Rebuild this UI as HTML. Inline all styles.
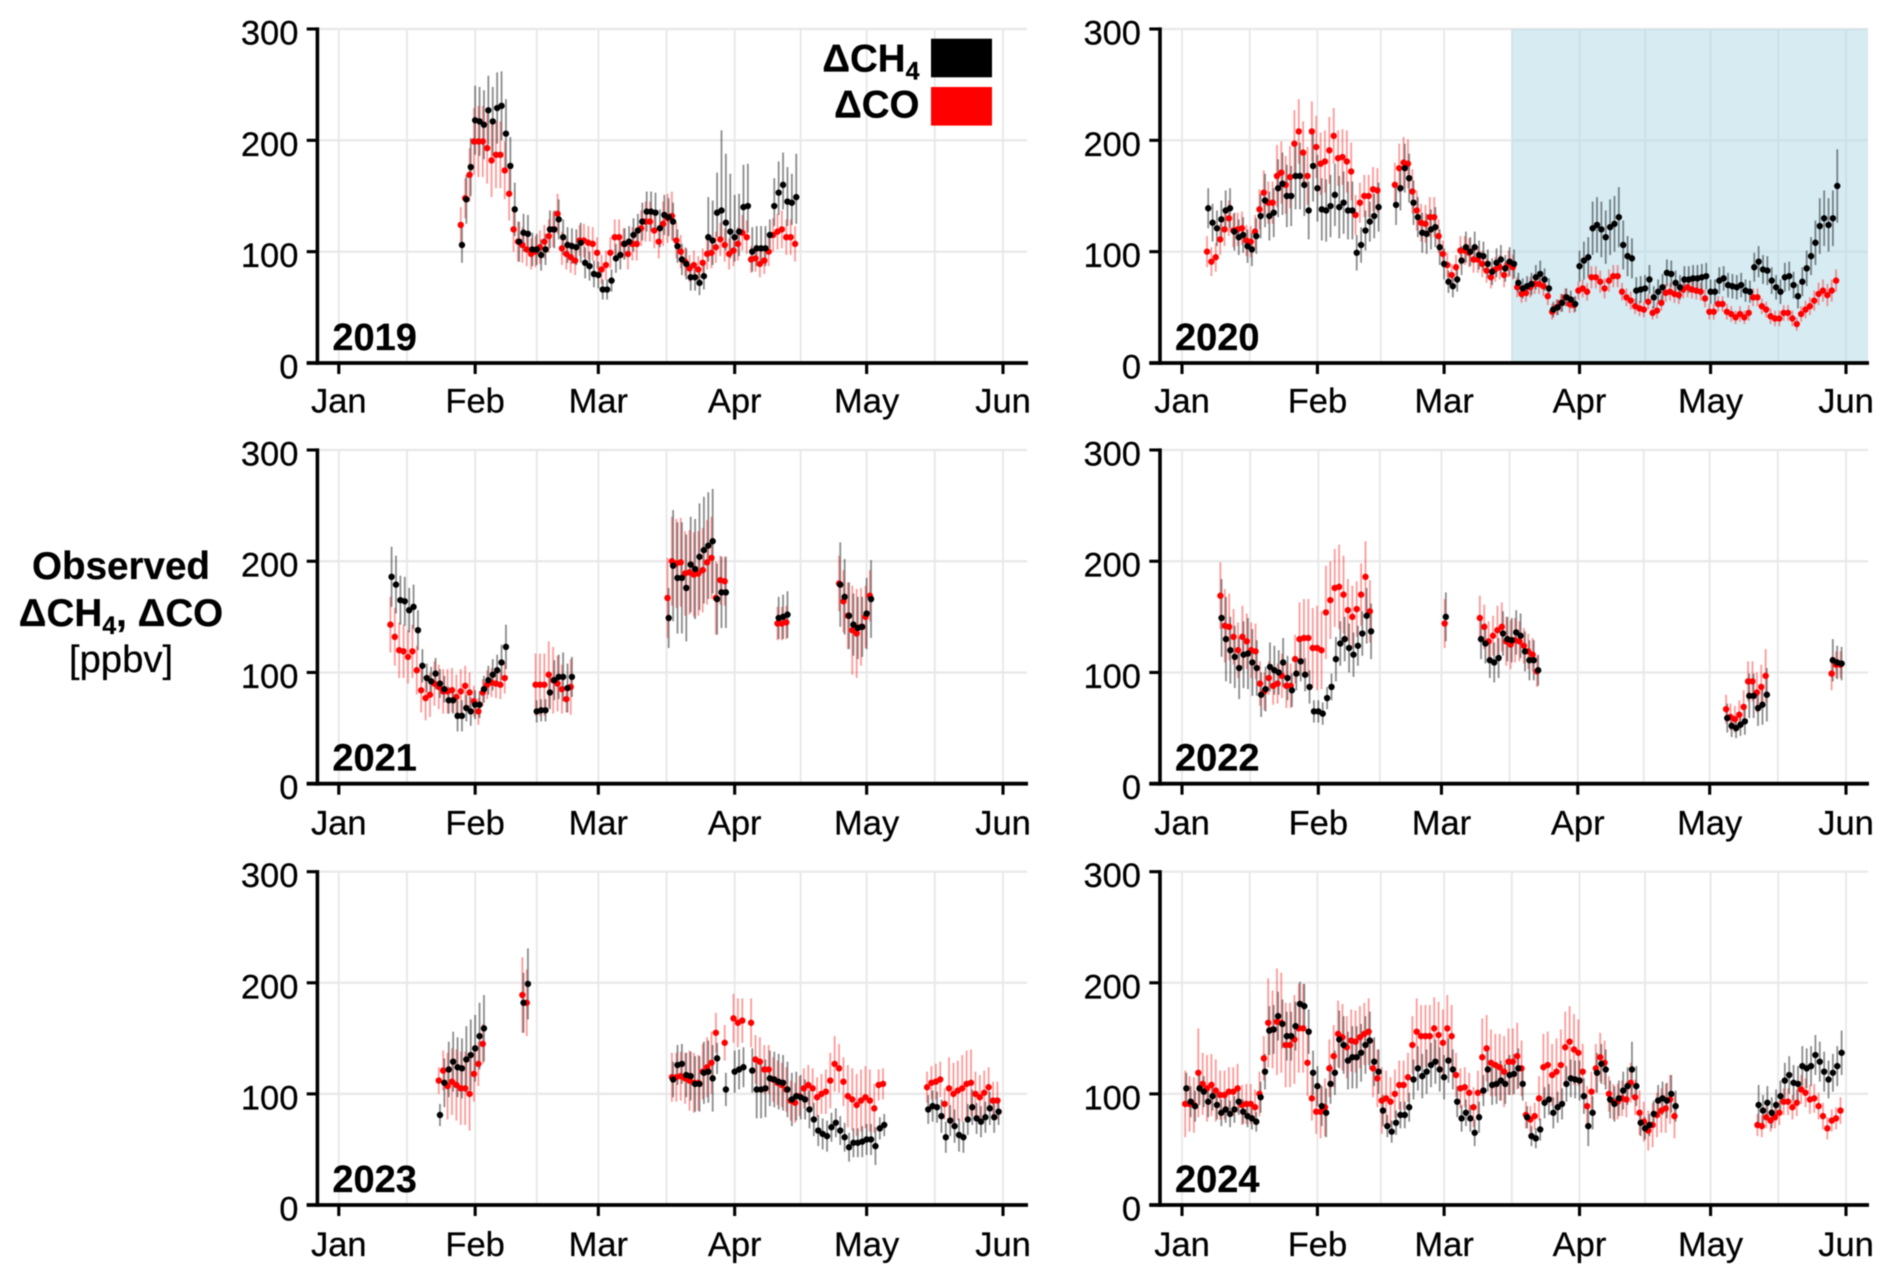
<!DOCTYPE html>
<html lang="en">
<head>
<meta charset="utf-8">
<title>Observed ΔCH4 and ΔCO 2019-2024</title>
<style>
html,body{margin:0;padding:0;background:#fff;}
svg{display:block;filter:blur(0.5px);}
text{font-family:"Liberation Sans",Arial,sans-serif;fill:#000;stroke:#000;stroke-width:0.25px;}
</style>
</head>
<body>
<svg id="figure" xmlns="http://www.w3.org/2000/svg" width="1892" height="1283" viewBox="0 0 1892 1283">
  <rect x="0" y="0" width="1892" height="1283" fill="#fff"/>
  <g id="panels"></g>
  <g text-anchor="middle">
    <text x="121" y="579" font-size="38.6" font-weight="bold">Observed</text>
    <text x="121" y="626" font-size="38.6" font-weight="bold">ΔCH<tspan font-size="25" dy="8">4</tspan><tspan dy="-8">, ΔCO</tspan></text>
    <text x="121" y="672" font-size="38.3">[ppbv]</text>
  </g>
  <g>
    <text x="919.5" y="71.5" font-size="38.5" font-weight="bold" text-anchor="end">ΔCH<tspan font-size="25" dy="8">4</tspan></text>
    <rect x="931" y="38.7" width="61" height="38.6" fill="#000"/>
    <text x="919.5" y="117.5" font-size="38.5" font-weight="bold" text-anchor="end">ΔCO</text>
    <rect x="931" y="87" width="61" height="38.6" fill="#f00"/>
  </g>
</svg>
<script>
const monthLabels = ["Jan","Feb","Mar","Apr","May","Jun"];
const yTickValues = [0,100,200,300];

// 2019
const segments2019 = [[28,77]];
const ch4Values2019 = [106,147,176,218,217,214,227,217,229,231,
206,177,138,109,117,116,102,102,97,102,
120,120,129,113,106,105,104,108,90,87,
80,79,66,66,74,94,97,107,109,115,
119,127,136,136,135,121,133,131,127,105,
93,89,77,77,72,78,113,110,135,137,
126,118,113,118,140,141,100,103,103,103,
115,141,153,160,145,144,149];
const coValues2019 = [124,148,169,199,199,199,193,182,187,187,
173,152,120,109,106,102,98,100,104,109,
114,120,134,103,98,95,92,110,110,108,
107,99,84,88,99,113,113,107,98,107,
107,121,127,127,119,109,125,130,132,110,
100,91,85,88,84,90,98,99,104,111,
106,98,101,107,117,113,93,94,89,92,
100,115,118,120,113,113,107];
const ch4Errors2019 = [16,22,26,31,31,31,31,31,32,31,
31,26,24,18,17,17,15,14,14,14,
17,17,18,16,16,16,16,18,14,13,
12,12,9,9,10,13,13,14,14,15,
15,17,18,18,18,17,18,17,17,15,
14,14,12,12,11,12,36,36,36,72,
62,52,38,34,38,38,22,20,20,20,
14,25,28,29,31,26,39];
const ch4LowerErrors2019 = [16,22,26,31,31,31,31,31,32,31,
31,26,24,18,17,17,15,14,14,14,
17,17,18,16,16,16,16,18,14,13,
12,12,9,9,10,13,13,14,14,15,
15,17,18,18,18,17,18,17,17,15,
14,14,12,12,11,12,22,22,22,25,
25,24,22,22,24,24,18,16,16,16,
12,18,20,22,22,20,24];
const coErrors2019 = [16,18,24,30,32,32,32,33,30,30,
26,24,20,18,16,15,14,14,15,15,
15,16,18,15,14,14,13,14,15,15,
15,14,13,13,14,16,16,14,14,15,
15,16,18,18,16,15,20,22,22,16,
15,13,12,13,12,13,14,14,14,15,
15,14,14,15,16,15,12,12,12,12,
13,15,16,17,16,16,16];

// 2020
const segments2020 = [[6,145]];
const ch4Values2020 = [139,126,121,129,137,139,118,113,115,105,
102,114,132,146,132,135,157,161,150,150,
168,168,160,137,177,157,138,137,141,151,
140,144,137,137,99,106,119,127,132,140,
null,null,null,142,157,175,166,144,131,117,
116,120,122,104,89,73,69,75,92,104,
100,104,97,96,89,82,90,93,85,91,
89,72,67,69,71,77,80,75,67,48,
50,54,59,57,53,87,92,95,121,124,
120,113,122,125,131,106,96,94,65,66,
67,75,59,64,68,81,80,72,68,75,
75,76,76,77,78,64,64,74,76,70,
69,68,70,65,64,86,91,84,83,74,
68,64,77,78,70,60,73,85,96,108,
123,130,124,130,159];
const coValues2020 = [100,91,95,111,120,130,119,120,121,110,
109,118,138,153,144,144,168,171,160,167,
197,208,189,168,208,194,179,181,191,204,
184,185,181,172,133,144,150,150,156,155,
null,null,null,160,175,180,179,154,137,126,
125,131,131,114,98,88,79,86,101,101,
99,93,93,89,83,77,84,86,79,89,
86,68,62,63,68,71,71,69,60,46,
50,54,59,53,52,65,67,64,77,77,
73,67,74,78,78,64,59,56,51,49,
48,55,45,47,54,63,64,62,61,66,
68,66,65,64,58,46,46,53,53,46,
44,41,44,41,45,59,59,51,48,42,
40,40,45,45,40,35,44,48,51,56,
62,65,61,65,74];
const ch4Errors2020 = [18,17,16,17,18,18,17,16,16,15,
15,16,20,24,22,22,26,28,28,27,
30,30,28,26,32,30,28,28,28,28,
28,28,26,26,16,16,18,18,20,22,
null,null,null,18,20,22,22,20,18,18,
18,18,18,16,14,10,10,11,13,14,
13,14,13,13,13,12,13,13,12,13,
13,9,9,9,10,11,12,10,9,7,
7,8,8,8,7,14,17,18,24,25,
25,24,25,25,27,22,18,18,12,12,
12,13,10,11,12,12,12,11,11,12,
12,12,12,12,12,11,11,12,11,11,
11,11,11,10,10,13,14,13,13,12,
11,11,13,13,12,11,13,16,17,20,
25,25,24,25,33];
const coErrors2020 = [14,13,13,14,15,16,15,15,15,14,
14,15,18,20,19,19,28,28,26,28,
30,29,28,26,27,28,28,28,30,25,
25,25,28,26,18,18,19,19,20,20,
null,null,null,20,22,23,22,20,18,17,
17,18,18,15,12,11,10,11,13,13,
13,12,12,12,11,10,11,11,11,12,
11,9,8,8,9,9,9,9,8,7,
7,8,8,8,7,8,8,8,10,10,
10,9,10,10,10,8,8,8,7,7,
7,7,6,7,7,8,8,8,8,8,
9,8,8,8,8,7,7,7,7,7,
7,6,7,6,7,8,8,7,7,7,
7,7,7,7,7,6,7,8,8,9,
10,10,10,10,10];

// 2021
const segments2021 = [[12,27],[45,9],[75,14],[100,3],[114,8]];
const ch4Values2021 = [186,179,165,164,156,159,138,106,95,92,
99,90,85,75,75,61,61,68,65,71,
71,85,93,98,102,109,123,
65,66,66,82,93,96,96,86,96,
149,196,185,185,176,197,193,204,210,214,218,166,172,172,
149,150,152,
179,168,151,143,140,141,153,166];
const coValues2021 = [143,132,120,119,114,119,102,84,77,80,
90,87,83,83,84,78,83,88,82,74,
65,82,89,91,90,89,95,
89,89,89,98,93,90,85,76,87,
167,200,198,199,189,190,188,189,192,199,203,167,183,182,
144,144,145,
180,164,151,138,135,141,150,169];
const ch4Errors2021 = [27,26,22,22,20,20,18,15,13,13,
14,13,12,12,12,14,14,12,13,13,
12,12,13,14,14,16,20,
10,10,10,15,18,20,22,22,18,
27,50,50,50,48,43,45,48,48,48,47,32,32,32,
19,20,21,
38,34,30,28,28,27,32,35];
const coErrors2021 = [25,26,25,24,24,24,22,20,20,20,
20,20,20,20,20,20,20,18,18,14,
12,12,13,13,13,13,14,
28,28,28,30,30,25,22,12,25,
36,40,40,40,38,38,38,38,38,38,37,33,22,22,
15,15,15,
25,28,30,40,40,35,28,23];

// 2022
const segments2022 = [[9,35],[60,1],[68,14],[124,10],[148,3]];
const ch4Values2022 = [149,130,120,114,104,116,117,109,104,80,
85,105,102,100,109,95,84,99,110,98,
87,65,65,63,77,87,112,126,130,122,
116,124,135,151,137,
150,
130,126,111,109,113,135,130,129,136,133,119,111,111,102,
59,52,50,53,56,79,79,68,71,80,
111,109,108];
const coValues2022 = [169,142,141,132,120,132,128,120,119,90,
83,95,88,90,97,88,88,112,130,131,
131,122,122,120,154,165,176,177,170,156,
150,157,170,186,155,
144,
149,141,128,133,138,141,128,125,129,128,124,119,116,101,
67,60,58,62,69,92,92,82,87,97,
99,107,107];
const ch4Errors2022 = [35,38,30,28,28,30,32,30,25,20,
20,22,22,20,22,20,15,15,18,15,
15,10,10,10,10,12,20,20,20,22,
20,18,20,25,25,
22,
18,18,16,18,18,20,20,20,20,20,18,18,18,14,
13,10,9,10,12,20,20,16,18,24,
19,15,15];
const coErrors2022 = [30,33,30,25,25,28,25,25,25,20,
17,15,17,18,20,20,20,22,33,35,
35,36,38,35,42,35,35,38,35,28,
28,25,28,32,28,
22,
20,20,18,18,22,22,22,22,20,18,16,16,15,14,
13,12,12,13,15,18,18,18,20,24,
15,12,12];

// 2023
const segments2023 = [[23,11],[42,2],[76,49],[134,17]];
const ch4Values2023 = [81,110,122,129,124,123,131,135,141,152,159,
182,199,
113,126,127,117,116,109,109,119,120,114,
132,null,104,null,120,122,124,null,121,104,
104,105,114,113,111,110,104,95,98,97,
95,86,77,67,64,62,70,74,67,61,
52,56,56,57,59,59,53,69,72,
86,89,88,80,61,76,71,63,61,77,88,78,75,79,87,79,84];
const coValues2023 = [112,121,107,111,108,105,105,100,118,127,145,
189,182,
115,115,116,114,112,110,110,120,124,128,
155,null,146,null,168,164,166,null,164,131,
129,122,122,113,110,108,104,94,92,98,
105,108,105,97,100,102,112,127,123,111,
98,95,90,94,97,94,87,108,109,
106,110,111,113,91,105,100,103,105,109,110,100,97,101,106,94,94];
const ch4Errors2023 = [10,22,25,27,27,27,30,32,30,30,30,
27,32,
16,18,18,20,22,25,25,28,28,30,
14,null,15,null,19,18,18,null,20,26,
26,26,25,25,25,25,25,24,22,20,
18,17,15,14,14,14,13,13,13,13,
13,13,13,14,14,14,17,10,10,
13,14,14,15,14,14,15,15,14,14,16,14,14,14,15,14,12];
const coErrors2023 = [12,18,30,30,32,33,33,33,25,20,18,
34,30,
22,22,22,23,27,27,25,25,27,28,
18,null,16,null,22,22,20,null,22,22,
22,22,22,20,20,20,20,18,18,18,
18,18,18,18,18,20,25,25,22,22,
28,28,28,28,28,28,22,14,14,
14,15,16,16,14,28,28,27,30,30,30,20,20,20,18,17,17];

// 2024
const segments2024 = [[1,113],[132,20]];
const ch4Values2024 = [105,93,89,105,102,93,98,90,83,86,
82,86,93,84,80,78,75,97,120,157,
158,170,163,152,152,161,181,179,156,119,
107,89,83,109,119,149,144,130,133,133,
137,144,148,129,120,85,71,66,74,81,
81,88,113,123,116,120,126,129,122,115,
130,122,93,78,83,78,65,79,103,122,
108,109,112,109,117,118,123,109,79,62,
60,68,92,95,83,88,91,109,114,113,
112,98,71,83,119,127,122,95,91,96,
103,107,122,107,74,69,72,82,94,96,
94,100,89,
90,85,92,83,90,98,112,117,110,109,125,123,125,135,129,120,113,119,125,137];
const coValues2024 = [91,91,90,119,109,105,108,103,99,99,
102,102,105,90,91,91,88,100,132,164,
158,165,164,144,144,149,159,159,128,96,
84,84,88,123,134,154,151,142,148,147,
151,154,156,123,114,94,96,93,100,108,
108,115,144,156,152,152,152,159,153,146,
159,152,117,105,106,101,88,101,133,141,
128,126,124,120,129,129,134,123,81,77,
80,96,124,126,117,120,126,142,147,140,
137,120,89,102,123,133,128,100,93,93,
96,95,110,97,83,75,67,72,81,85,
87,95,80,
72,71,79,76,79,83,93,93,88,92,104,101,95,96,89,80,69,76,78,85];
const ch4Errors2024 = [14,14,14,15,14,14,13,13,12,12,
12,12,12,11,10,10,9,14,16,22,
22,22,22,22,22,22,20,20,20,20,
18,18,22,18,20,26,26,26,28,28,
26,26,26,22,20,14,10,10,11,12,
12,13,18,20,20,20,20,20,20,20,
20,18,14,12,12,12,12,14,14,20,
18,18,18,18,18,18,18,15,10,9,
9,10,14,14,14,14,14,16,17,17,
18,16,18,15,18,18,18,17,16,16,
17,17,25,18,12,10,10,12,14,15,
16,17,14,
18,14,15,14,14,14,16,17,16,16,18,18,18,18,18,18,17,17,18,20];
const coErrors2024 = [30,25,25,40,28,30,28,28,22,22,
22,22,22,18,18,18,16,20,20,40,
35,48,45,38,38,40,40,40,30,20,
20,24,26,26,28,30,30,28,28,28,
28,28,30,26,26,30,25,22,22,22,
22,22,26,30,28,28,28,28,30,30,
30,28,20,18,18,18,18,20,35,30,
30,28,30,32,30,30,30,25,12,12,
12,20,30,30,28,30,32,32,32,32,
30,25,18,18,22,22,20,16,16,16,
16,16,18,16,20,18,18,20,20,20,
22,22,20,
10,10,10,10,10,11,12,12,11,12,13,13,13,13,12,12,10,10,10,12];

// Shaded period in 2020, as day offset from Jan 1 (mid-March) to the axis end
const shadeStartDay2020 = 76;

const NS = "http://www.w3.org/2000/svg";
const columns = [{axis:317.4,jan:338.8,jun:1003,right:1027},{axis:1160,jan:1182,jun:1846,right:1868}];
const rows = [{top:29,bottom:363,labelGap:49.5},{top:450,bottom:783.7,labelGap:51},{top:871.7,bottom:1205,labelGap:51}];

function make(parent, tag, attrs, content){
  const el = document.createElementNS(NS, tag);
  for (const k in attrs) el.setAttribute(k, attrs[k]);
  if (content !== undefined) el.textContent = content;
  parent.appendChild(el);
  return el;
}
function isLeap(y){ return y % 4 === 0; }
function monthStartDays(y){
  const feb = isLeap(y) ? 29 : 28;
  return [0, 31, 31+feb, 62+feb, 92+feb, 123+feb];
}

function drawMarks(parent, species, color, opacity, dodge, segments, values, errors, lowerErrors, x, y){
  const bars = document.createElementNS(NS, "g");
  
  
  bars.setAttribute('stroke', color);
  bars.setAttribute('stroke-opacity', opacity);
  bars.setAttribute('stroke-width', '1.8');
  const dots = document.createElementNS(NS, "g");
  
  
  dots.setAttribute('fill', color);
  let i = 0;
  segments.forEach(function(seg){
    for (let k = 0; k < seg[1]; k++, i++){
      const v = values[i];
      if (v === null || v === undefined) continue;
      const up = errors[i] || 0;
      const down = (lowerErrors ? lowerErrors[i] : errors[i]) || 0;
      const px = x(seg[0] + k + dodge);
      const bar = document.createElementNS(NS, "line");
      
      
      bar.setAttribute('x1', px);
      bar.setAttribute('x2', px);
      bar.setAttribute('y1', y(v - down));
      bar.setAttribute('y2', y(v + up));
      bars.appendChild(bar);
      const dot = document.createElementNS(NS, "circle");
      
      
      dot.setAttribute('cx', px);
      dot.setAttribute('cy', y(v));
      dot.setAttribute('r', '3.2');
      dots.appendChild(dot);
    }
  });
  parent.appendChild(bars);
  return dots;
}

function drawPanel(year, col, row, segments, ch4, co, ch4Err, coErr, ch4Lower){
  const root = document.getElementById("panels");
  const g = document.createElementNS(NS, "g");
  
  
  root.appendChild(g);

  const c = columns[col], r = rows[row];
  const starts = monthStartDays(year);
  const total = starts[5];
  const x = function(d){ return c.jan + d * (c.jun - c.jan) / total; };
  const y = function(v){ return r.bottom - v * (r.bottom - r.top) / 300; };

  // gridlines
  yTickValues.forEach(function(v){
    const gl = make(g, "line", {x1:c.axis, x2:c.right, y1:y(v), y2:y(v), stroke:"#e8e8e8", "stroke-width":2.2});
    
    
  });
  starts.forEach(function(d, i){
    const gl = make(g, "line", {x1:x(d), x2:x(d), y1:r.top, y2:r.bottom, stroke:"#e8e8e8", "stroke-width":1.9});
    
    
    if (i < 5){
      const mid = (d + starts[i + 1]) / 2;
      const ml = make(g, "line", {x1:x(mid), x2:x(mid), y1:r.top, y2:r.bottom, stroke:"#e8e8e8", "stroke-width":1.9});
      
      
    }
  });

  // shaded period
  if (year === 2020){
    const sx = x(shadeStartDay2020 - 0.5);
    const sh = make(g, "rect", {x:sx, y:r.top, width:c.right - sx, height:r.bottom - r.top, fill:"#add8e6", "fill-opacity":0.5});
    
    
  }

  // data
  const coDots = drawMarks(g, "co", "#f00", 0.4, -0.27, segments, co, coErr, null, x, y);
  const ch4Dots = drawMarks(g, "ch4", "#000", 0.45, 0, segments, ch4, ch4Err, ch4Lower, x, y);
  g.appendChild(coDots);
  g.appendChild(ch4Dots);

  // axes
  const ya = make(g, "line", {x1:c.axis, x2:c.axis, y1:r.top - 1.6, y2:r.bottom + 1.9, stroke:"#000", "stroke-width":3.6});
  
  
  const xa = make(g, "line", {x1:c.axis - 10.7, x2:c.right + 1, y1:r.bottom, y2:r.bottom, stroke:"#000", "stroke-width":3.8});
  
  

  yTickValues.forEach(function(v){
    const t = make(g, "line", {x1:c.axis - 10.7, x2:c.axis, y1:y(v), y2:y(v), stroke:"#000", "stroke-width":3.1});
    
    
    const l = make(g, "text", {x:c.axis - 19, y:y(v) + 15.5, "font-size":34.5, "text-anchor":"end"}, String(v));
    
    
  });
  starts.forEach(function(d, i){
    const t = make(g, "line", {x1:x(d), x2:x(d), y1:r.bottom, y2:r.bottom + 11, stroke:"#000", "stroke-width":3.1});
    
    
    const l = make(g, "text", {x:x(d), y:r.bottom + r.labelGap, "font-size":34.5, "text-anchor":"middle"}, monthLabels[i]);
    
    
  });

  const yl = make(g, "text", {x:c.axis + 15, y:r.bottom - 13, "font-size":38, "font-weight":"bold"}, String(year));
  
  
}

drawPanel(2019, 0, 0, segments2019, ch4Values2019, coValues2019, ch4Errors2019, coErrors2019, ch4LowerErrors2019);
drawPanel(2020, 1, 0, segments2020, ch4Values2020, coValues2020, ch4Errors2020, coErrors2020, null);
drawPanel(2021, 0, 1, segments2021, ch4Values2021, coValues2021, ch4Errors2021, coErrors2021, null);
drawPanel(2022, 1, 1, segments2022, ch4Values2022, coValues2022, ch4Errors2022, coErrors2022, null);
drawPanel(2023, 0, 2, segments2023, ch4Values2023, coValues2023, ch4Errors2023, coErrors2023, null);
drawPanel(2024, 1, 2, segments2024, ch4Values2024, coValues2024, ch4Errors2024, coErrors2024, null);
</script>
</body>
</html>
